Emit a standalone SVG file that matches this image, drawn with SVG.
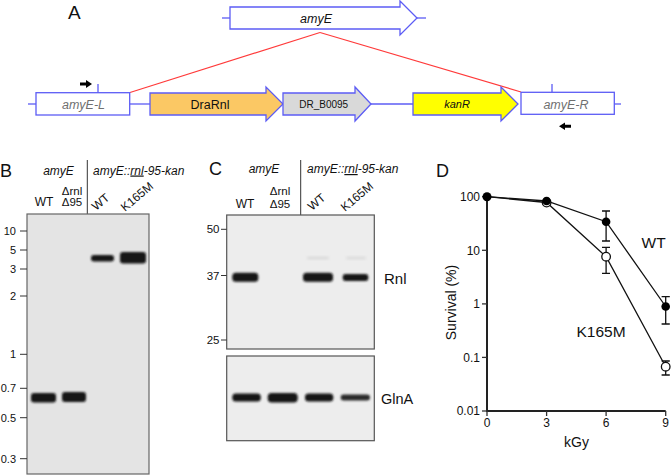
<svg xmlns="http://www.w3.org/2000/svg" width="672" height="476" viewBox="0 0 672 476">
<defs>
<style>
text{font-family:"Liberation Sans",Arial,sans-serif;fill:#111}
.pl{font-size:18px}
.gene{stroke:#5c5cf5;stroke-width:1.3}
.bl{stroke:#5c5cf5;stroke-width:1.3;fill:none}
.it{font-style:italic}
.g12{font-size:12.5px}
.hdr{font-size:12px}
.sm{font-size:11.5px}
.tk{font-size:11px;fill:#222}
.tkl{stroke:#333;stroke-width:1}
.ax{stroke:#222;stroke-width:2;fill:none}
.dl{stroke:#111;stroke-width:1.3;fill:none}
.eb{stroke:#111;stroke-width:1.3;fill:none}
.band{fill:#141414;filter:url(#blur)}
</style>
<filter id="blur" x="-20%" y="-60%" width="140%" height="220%"><feGaussianBlur stdDeviation="1"/></filter>
<filter id="blur2" x="-20%" y="-80%" width="140%" height="260%"><feGaussianBlur stdDeviation="1.6"/></filter>
</defs>
<rect width="672" height="476" fill="#ffffff"/>

<!-- Panel A -->
<text class="pl" x="68" y="19" style="font-size:19px">A</text>
<g id="connectors">
<line x1="320" y1="32.5" x2="130" y2="92.5" stroke="#ff3a3a" stroke-width="1.2"/>
<line x1="320" y1="32.5" x2="521" y2="92" stroke="#ff3a3a" stroke-width="1.2"/>
<line class="bl" x1="222" y1="18" x2="230" y2="18"/>
<line class="bl" x1="417" y1="18" x2="426" y2="18"/>
<line class="bl" x1="28" y1="104" x2="36" y2="104"/>
<line class="bl" x1="130" y1="104" x2="150" y2="104"/>
<line class="bl" x1="371" y1="104" x2="413" y2="104"/>
<line class="bl" x1="614" y1="104" x2="621" y2="104"/>
<line class="bl" x1="98" y1="84" x2="98" y2="92.7"/>
<line class="bl" x1="552" y1="84" x2="552" y2="92.3"/>
</g>
<g id="amyE">
<path class="gene" d="M230,7 H400 V1 L417,18 L400,35 V29 H230 Z" fill="#fff"/>
<text class="it g12" x="316" y="22.5" text-anchor="middle" fill="#333">amyE</text>
</g>
<g id="amyE-L">
<rect class="gene" x="36" y="92.7" width="93.7" height="22.3" fill="#fff"/>
<text class="it g12" x="83.5" y="108.5" text-anchor="middle" style="fill:#707070">amyE-L</text>
<path d="M80,82.4 H86 V80 L92,84 L86,88 V85.6 H80 Z" fill="#000"/>
</g>
<g id="DraRnl">
<path class="gene" d="M150,93 H266 V87 L283,104 L266,121 V115 H150 Z" fill="#fbc864"/>
<text class="g12" x="210" y="108.5" text-anchor="middle">DraRnl</text>
</g>
<g id="DR_B0095">
<path class="gene" d="M283,93 H355 V87 L371,104 L355,121 V115 H283 Z" fill="#d9d9d9"/>
<text x="323.7" y="108" text-anchor="middle" style="font-size:10px">DR_B0095</text>
</g>
<g id="kanR">
<path class="gene" d="M413,93 H501 V87 L518,104 L501,121 V115 H413 Z" fill="#ffff00"/>
<text class="it" x="457" y="108" text-anchor="middle" style="font-size:11px">kanR</text>
</g>
<g id="amyE-R">
<rect class="gene" x="521" y="92.3" width="93.3" height="22" fill="#fff"/>
<text class="it g12" x="566" y="108.5" text-anchor="middle" style="fill:#707070">amyE-R</text>
<path d="M571,124.8 H565 V122.5 L559,126.3 L565,130 V127.7 H571 Z" fill="#000"/>
</g>

<!-- Panel B -->
<g id="panelB">
<text class="pl" x="0" y="176.5">B</text>
<text class="it hdr" x="58.5" y="174.5" text-anchor="middle">amyE</text>
<text class="it hdr" x="93" y="174.5">amyE::<tspan text-decoration="underline">rnl</tspan>-95-kan</text>
<line x1="87.3" y1="160" x2="87.3" y2="214" stroke="#333" stroke-width="1"/>
<text class="hdr" x="44" y="206" text-anchor="middle">WT</text>
<text class="sm" x="72" y="194.5" text-anchor="middle">Δrnl</text>
<text class="sm" x="72" y="206" text-anchor="middle">Δ95</text>
<text class="hdr" transform="translate(96,211) rotate(-40)">WT</text>
<text class="hdr" transform="translate(125,212) rotate(-40)">K165M</text>
<rect x="27" y="214" width="122" height="260" fill="#e4e4e4" stroke="#666" stroke-width="1.2"/>
<rect x="31" y="393" width="25" height="9.5" rx="3" class="band"/>
<rect x="62" y="392" width="24" height="10" rx="3" class="band"/>
<rect x="91" y="255" width="23" height="6.5" rx="3" class="band"/>
<rect x="120" y="252" width="26" height="11.5" rx="3" class="band"/>
<g class="tkl">
<line x1="20" y1="231" x2="27" y2="231"/>
<line x1="20" y1="250" x2="27" y2="250"/>
<line x1="20" y1="269" x2="27" y2="269"/>
<line x1="20" y1="296" x2="27" y2="296"/>
<line x1="20" y1="354.3" x2="27" y2="354.3"/>
<line x1="20" y1="388.3" x2="27" y2="388.3"/>
<line x1="20" y1="417.7" x2="27" y2="417.7"/>
<line x1="20" y1="458.7" x2="27" y2="458.7"/>
</g>
<g class="tk" text-anchor="end">
<text x="16" y="235">10</text>
<text x="16" y="254">5</text>
<text x="16" y="273">3</text>
<text x="16" y="300">2</text>
<text x="16" y="358.3">1</text>
<text x="16" y="392.3">0.7</text>
<text x="16" y="421.7">0.5</text>
<text x="16" y="462.7">0.3</text>
</g>
</g>

<!-- Panel C -->
<g id="panelC">
<text class="pl" x="209" y="175">C</text>
<text class="it hdr" x="264" y="173" text-anchor="middle">amyE</text>
<text class="it hdr" x="307" y="173">amyE::<tspan text-decoration="underline">rnl</tspan>-95-kan</text>
<line x1="300.7" y1="160" x2="300.7" y2="215" stroke="#333" stroke-width="1"/>
<text class="hdr" x="245" y="208" text-anchor="middle">WT</text>
<text class="sm" x="280" y="195" text-anchor="middle">Δrnl</text>
<text class="sm" x="280" y="208" text-anchor="middle">Δ95</text>
<text class="hdr" transform="translate(312,211) rotate(-40)">WT</text>
<text class="hdr" transform="translate(345,212) rotate(-40)">K165M</text>
<rect x="226.7" y="215" width="147.6" height="134" fill="#ededed" stroke="#555" stroke-width="1.2"/>
<rect x="307" y="257" width="22" height="2" rx="1" fill="#d2d2d2" filter="url(#blur2)"/>
<rect x="346" y="257" width="20" height="2" rx="1" fill="#d4d4d4" filter="url(#blur2)"/>
<rect x="232.3" y="272.8" width="26" height="9" rx="3.5" class="band"/>
<rect x="303" y="272.8" width="30" height="9" rx="3.5" class="band"/>
<rect x="342.7" y="274" width="25.6" height="7" rx="3" class="band"/>
<g class="tkl">
<line x1="221" y1="229.3" x2="226.7" y2="229.3"/>
<line x1="221" y1="275.5" x2="226.7" y2="275.5"/>
<line x1="221" y1="340" x2="226.7" y2="340"/>
</g>
<g class="tk" text-anchor="end" style="font-size:11.5px">
<text x="219.5" y="233.3">50</text>
<text x="219.5" y="279.5">37</text>
<text x="219.5" y="344">25</text>
</g>
<text x="384" y="283.5" style="font-size:15px">Rnl</text>
<rect x="226.7" y="356" width="147.6" height="84.7" fill="#ededed" stroke="#555" stroke-width="1.2"/>
<rect x="232.3" y="393.5" width="28.5" height="8" rx="3.5" class="band"/>
<rect x="267.7" y="393" width="30" height="9.5" rx="4" class="band"/>
<rect x="305" y="393.5" width="28.3" height="8" rx="3.5" class="band"/>
<rect x="340.7" y="394.5" width="29.3" height="6" rx="3" class="band" style="fill:#2a2a2a"/>
<text x="381" y="404" style="font-size:14.5px">GlnA</text>
</g>

<!-- Panel D -->
<g id="panelD">
<text class="pl" x="436" y="176.5">D</text>
<path class="ax" d="M487,196.7 V411 H665.7"/>
<g class="tkl" style="stroke-width:1.3">
<line x1="482" y1="196.7" x2="487" y2="196.7"/>
<line x1="482" y1="250.3" x2="487" y2="250.3"/>
<line x1="482" y1="303.9" x2="487" y2="303.9"/>
<line x1="482" y1="357.4" x2="487" y2="357.4"/>
<line x1="482" y1="411" x2="487" y2="411"/>
<line x1="487" y1="411" x2="487" y2="416"/>
<line x1="546.6" y1="411" x2="546.6" y2="416"/>
<line x1="606.1" y1="411" x2="606.1" y2="416"/>
<line x1="665.7" y1="411" x2="665.7" y2="416"/>
</g>
<g class="tk" text-anchor="end" style="font-size:12px">
<text x="480" y="201">100</text>
<text x="480" y="254.6">10</text>
<text x="480" y="308.2">1</text>
<text x="480" y="361.7">0.1</text>
<text x="480" y="415.3">0.01</text>
</g>
<g class="tk" text-anchor="middle" style="font-size:12px">
<text x="487" y="427">0</text>
<text x="546.6" y="427">3</text>
<text x="606.1" y="427">6</text>
<text x="665.7" y="427">9</text>
</g>
<text x="576.5" y="447" text-anchor="middle" style="font-size:14px">kGy</text>
<text transform="translate(456,302.5) rotate(-90)" text-anchor="middle" style="font-size:14px">Survival (%)</text>
<polyline class="dl" points="487,196.7 546.6,201 606.1,221.7 665.7,306.5"/>
<polyline class="dl" points="487,196.7 546.6,202.5 606.1,256.7 665.7,366.7"/>
<g class="eb">
<path d="M606.1,211 V241 M602,211 H610 M602,241 H610"/>
<path d="M606.1,247.3 V273.3 M602,247.3 H610 M602,273.3 H610"/>
<path d="M665.7,296.7 V324 M661.6,296.7 H669.8 M661.6,324 H669.8"/>
<path d="M665.7,361 V375 M661.6,361 H669.8 M661.6,375 H669.8"/>
</g>
<circle cx="546.6" cy="202.5" r="4.3" fill="#fff" stroke="#111" stroke-width="1.3"/>
<circle cx="606.1" cy="256.7" r="4.3" fill="#fff" stroke="#111" stroke-width="1.3"/>
<circle cx="665.7" cy="366.7" r="4.3" fill="#fff" stroke="#111" stroke-width="1.3"/>
<circle cx="487" cy="196.7" r="4.5" fill="#000"/>
<circle cx="546.6" cy="201" r="4.3" fill="#000"/>
<circle cx="606.1" cy="221.7" r="4.3" fill="#000"/>
<circle cx="665.7" cy="306.5" r="4.3" fill="#000"/>
<text x="641.5" y="248" style="font-size:15.5px">WT</text>
<text x="576.5" y="337" style="font-size:15.5px">K165M</text>
</g>
</svg>
